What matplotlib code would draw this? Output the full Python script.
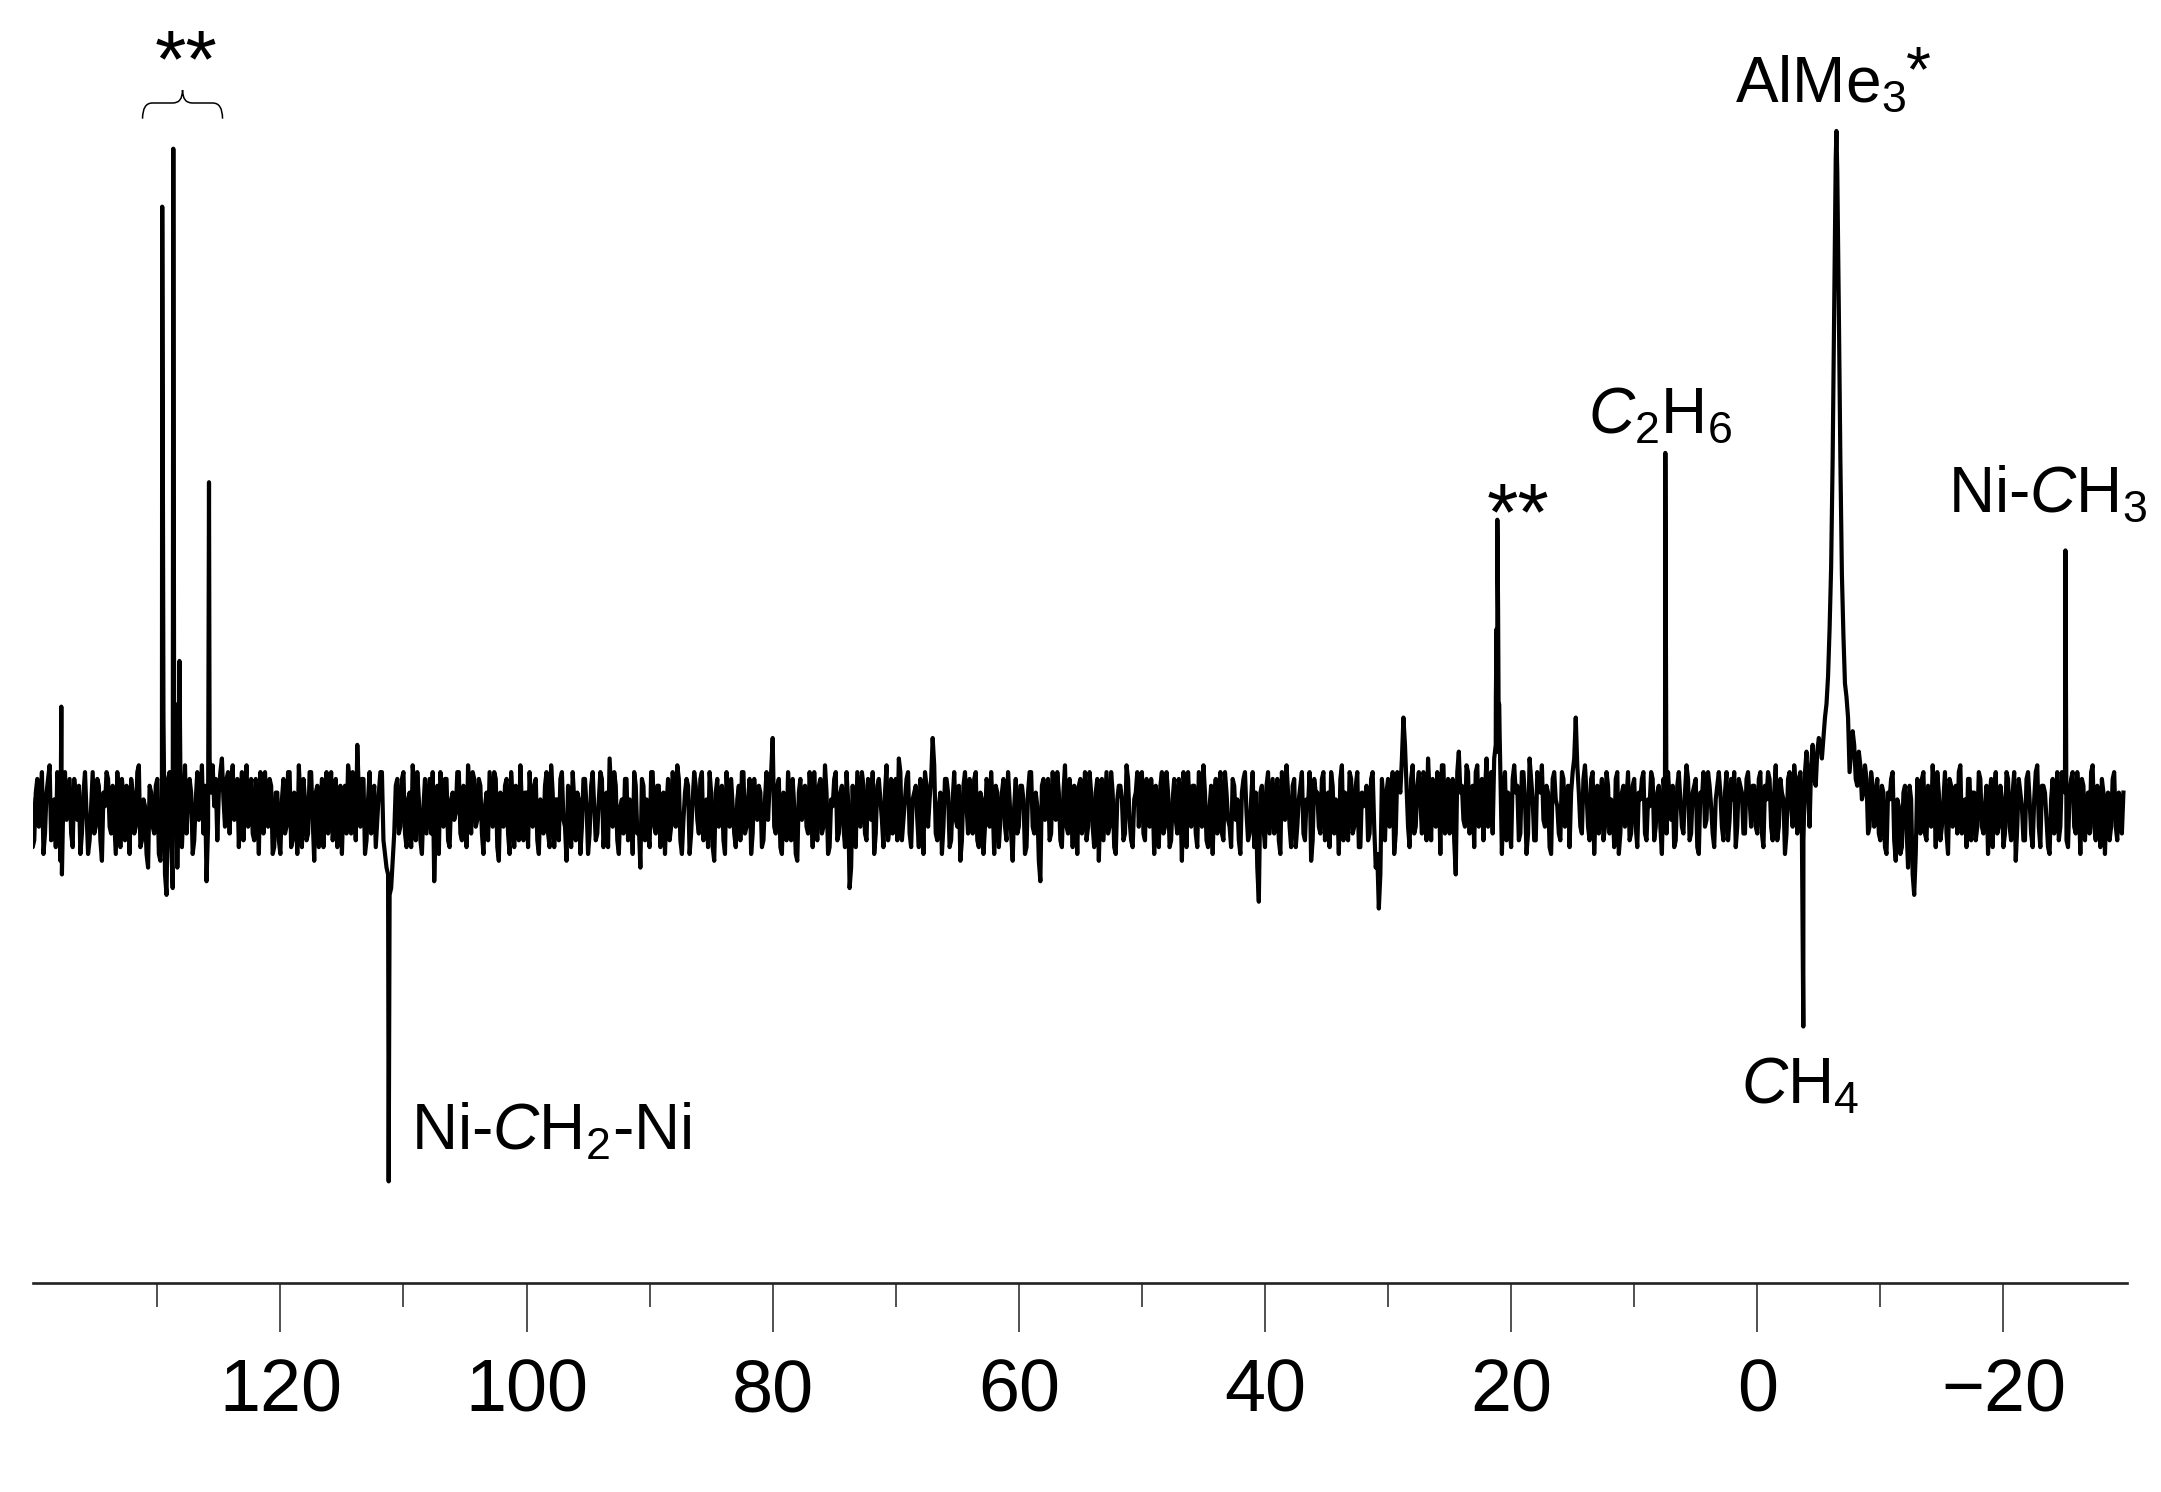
import numpy as np
import matplotlib
matplotlib.use('Agg')
import matplotlib.pyplot as plt
from matplotlib.path import Path
from matplotlib.patches import PathPatch
from matplotlib.ticker import FixedLocator

plt.rcParams['font.family'] = ['Liberation Sans', 'DejaVu Sans']
plt.rcParams['mathtext.fontset'] = 'custom'
plt.rcParams['mathtext.rm'] = 'Liberation Sans'
plt.rcParams['mathtext.it'] = 'Liberation Sans:italic'
plt.rcParams['mathtext.bf'] = 'Liberation Sans:bold'

# spectrum read every 0.25 ppm from 140.25 ppm (intensity: AlMe3 = 100)
ppm_first = 140.25
ppm_step = 0.25
spectrum = [
    # 140.25 .. 130.5
    2, -4, 5, 1, -6, 3, 7, -2, -5, 4, -9, 6, 2, -3, 5, -1, -6, 3, 0, -4,
    6, -2, 4, -7, 1, 5, -3, -1, 6, -5, 2, 4, -6, 3, -2, 7, -4, 1, -8, 3,
    # 130.25 .. 120.5
    -3, 5, -7, 14, -12, 6, -11, 9, 4, -5, 7, 2, 3, -4, 6, 1, -3, -10, 8, 7,
    5, 3, 8, -2, 6, 4, -1, 5, 2, -4, 7, 0, -3, 5, -6, 3, 6, -2, 4, -5,
    # 120.25 .. 110.5
    3, -6, 5, -2, 6, -4, 1, 7, -5, 2, -3, 6, -7, 4, 0, -5, 6, 2, -4, 5,
    -1, -6, 4, 7, -3, 2, 10, -2, 5, -4, 6, 1, -5, 3, 6, -6, -9, -11, -3, 5,
    # 110.25 .. 100.5
    -2, 6, -5, 3, 7, -4, 2, -6, 5, 1, -3, -10, 4, 6, -2, 5, -5, 3, 0, 6,
    -4, 2, 7, -3, 5, -1, 4, -6, 3, 6, -2, 5, -7, 1, 4, -3, 6, -5, 2, 7,
    # 100.25 .. 90.5
    -4, 3, 6, -2, 5, -6, 1, 4, -3, 7, -5, 2, 5, -1, -7, 3, 6, -4, 2, -2,
    5, -6, 4, 1, -3, 6, -5, 3, 8, -2, 4, -6, 2, 5, -4, 1, 6, -3, -8, 4,
    # 90.25 .. 80.5
    2, -5, 6, -3, 4, 1, -6, 5, -2, 3, 7, -4, -1, 5, -6, 2, 4, -3, 6, 0,
    -5, 3, -7, 5, 2, -4, 6, -2, 1, -5, 4, 6, -3, 2, -6, 5, -1, 3, -4, 6,
    # 80.25 .. 70.5
    4, 11, -3, 5, -6, 2, 6, -4, 1, -7, 5, 3, -2, 6, -5, 0, 4, -3, 7, -6,
    2, 5, -4, 3, -2, 6, -11, 4, -5, 2, 6, -3, 5, -1, -6, 4, 2, -5, 7, -2,
    # 70.25 .. 60.5
    -3, 5, 8, -4, 2, 6, -5, 3, -1, 5, -6, 4, 2, 11, -3, 1, -6, 5, 3, -4,
    6, -2, -7, 4, 1, 5, -3, 6, -5, 2, -2, 4, 6, -6, 3, -1, 5, -4, 2, -7,
    # 60.25 .. 50.5
    5, -2, 4, -6, 3, 6, -3, 1, -10, 5, 2, -4, 6, -1, 3, -5, 7, -3, 2, 4,
    -6, 5, 0, -4, 6, -2, 3, -7, 5, 1, -3, 6, -5, 2, 4, -4, 7, -1, -5, 3,
    # 50.25 .. 40.5
    -2, 6, -4, 3, 5, -6, 1, 4, -3, 6, -5, 2, -1, 5, -7, 3, 6, -2, 4, -5,
    2, 7, -4, 1, -6, 5, 3, -3, 6, -1, -5, 4, 2, -6, 5, 0, -3, 6, 3, -13,
    # 40.25 .. 30.5
    4, -5, 6, 1, -3, 5, -6, 3, 7, -2, 4, -5, 2, 6, -4, 1, -7, 5, 3, -3,
    6, -1, -5, 4, 2, -6, 7, 3, -4, 5, -2, 6, -5, 1, 4, -3, 6, -8, -14, 5,
    # 30.25 .. 20.5
    -4, 5, 2, -6, 6, 3, 14, 4, -5, 7, -2, 6, -3, 5, 8, -4, 2, 6, -6, 7,
    1, -3, 5, -9, 9, 4, -2, 6, 3, -5, 7, 2, -4, 8, 5, -3, 10, 9, -6, 6,
    # 20.25 .. 10.5
    3, -5, 7, 4, -3, 6, -6, 8, 2, -4, 5, 7, -2, 3, -6, 6, 1, -4, 5, 2,
    -5, 6, 14, 3, -3, 7, -2, 5, -6, 4, 2, -4, 6, -3, 1, 5, -6, 3, -2, 6,
    # 10.25 .. 0.5
    -3, 5, -5, 2, 6, -4, 1, 5, -2, 4, -6, 3, 6, -1, -5, 4, 2, -3, 7, -4,
    3, 5, -6, 2, -2, 6, 1, -5, 4, 3, -4, 6, -1, 2, -5, 5, 3, -3, 6, -2,
    # 0.25 .. -9.5 (AlMe3 base)
    4, -3, 6, -5, 2, 5, -4, 7, -2, 3, -6, 5, 1, 7, -3, 6, -4, 9, -2, 10,
    4, 11, 8, 14, 20, 36, 74, 94, 52, 26, 17, 6, 12, 5, 9, 2, 7, -3, 6, -2,
    # -9.75 .. -19.5
    5, -4, 3, -6, 2, 6, -7, 1, -5, 4, -8, 2, -12, 5, -3, 6, -4, 1, 7, -5,
    3, -2, 6, -6, 4, 2, -3, 7, -1, -5, 5, 3, -4, 6, -2, 1, -6, 5, 3, -3,
    # -19.75 .. -29.75
    4, -5, 6, -2, 3, -7, 5, 1, -4, 6, -3, 2, 7, -5, 4, -1, -6, 5, 2, -4,
    6, 3, -5, 5, -2, 6, -6, 4, 1, -3, 7, -4, 2, 5, -6, 3, -2, 6, -4, 2, 3,
]

# same spectrum read at the midpoints, from 140.125 ppm
spectrum_mid = [
    # 140.125 .. 130.375
    -5, 3, -2, 6, -3, 5, -4, 2, 6, -7, 3, -1, 5, -5, 2, 4, -3, 6, -6, 1,
    -3, 5, -4, 3, 6, -2, 4, -6, 2, 5, -4, 0, 5, -3, 6, -5, 2, -6, 4, -2,
    # 130.125 .. 120.375
    4, -6, 2, -9, 5, -4, 3, -8, 6, 1, -3, 5, -6, 2, -1, 7, 4, -2, 3, 1,
    -4, 6, 2, 5, -3, 7, 2, -5, 6, 3, -2, 5, -4, 2, 6, -3, 1, 5, -6, 3,
    # 120.125 .. 110.375
    -4, 2, -3, 6, -5, 3, -6, 2, 5, -4, 6, -1, 3, -5, 5, 2, -3, 6, -1, -5,
    4, 2, -3, 5, 6, -4, 3, 5, -6, 2, -3, 4, -1, 6, -4, -8, -12, -7, 4, -3,
    # 110.125 .. 100.375
    5, -3, 2, -5, 4, 6, -4, 1, -3, 5, 6, -2, -6, 3, 5, -4, 2, -1, 6, -3,
    4, -5, 3, 6, -2, 5, -3, 1, -4, 2, 6, -5, 3, -2, 5, -6, 2, 4, -4, 1,
    # 100.125 .. 90.375
    3, -5, 1, 4, -4, 2, -3, 6, -5, 3, 2, -4, 6, -2, 4, -5, 2, 3, -6, 5,
    1, -3, 6, -4, 2, 5, -2, -5, 3, 6, -4, 1, -3, 5, 2, -6, 4, -2, 5, -4,
    # 90.125 .. 80.375
    -3, 6, -2, 4, -5, 3, 1, -4, 6, -2, 5, -6, 3, 4, -3, 6, -1, 5, -4, 2,
    6, -5, 3, -2, 4, -6, 1, 5, -3, 2, -4, 6, -2, 5, -3, 1, 4, -5, 2, -1,
    # 80.125 .. 70.375
    6, -2, 4, -5, 3, -4, 2, 5, -6, 3, -1, 4, -3, 2, 6, -4, 5, -2, 3, -5,
    1, 6, -3, 4, -5, 2, -8, -3, 6, -2, 4, -4, 2, 6, -3, 5, -1, 3, -4, 5,
    # 70.125 .. 60.375
    2, -4, 6, -1, 5, -3, 2, 4, -5, 3, 6, -2, 5, 7, -4, 3, -2, 5, -5, 2,
    -1, 4, -4, 6, -3, 2, 5, -4, 3, -6, 5, -2, 1, 4, -5, 3, -2, 6, -3, 1,
    # 60.125 .. 50.375
    -3, 4, 2, -5, 6, -2, 3, -7, 4, -1, 5, -3, 2, 6, -4, 3, -2, 5, -5, 1,
    4, -3, 6, -2, 3, -5, 5, 1, -4, 6, -2, 3, -6, 4, 2, -3, 5, -4, 2, 6,
    # 50.125 .. 40.375
    4, -3, 5, -2, 2, 4, -5, 6, -2, 3, -4, 5, -3, 2, 6, -5, 1, 4, -3, 6,
    -2, 3, -5, 4, 2, -3, 6, -4, 3, -2, 5, -1, -4, 3, 6, -4, 2, -5, -8, 3,
    # 40.125 .. 30.375
    -2, 4, -3, 5, 2, -4, 6, -1, 3, -5, 5, -2, 4, -3, 2, 6, -4, 3, -2, 5,
    -4, 3, 6, -3, 1, 5, -4, 2, 6, -3, 4, -5, 3, 2, -4, 5, -2, -6, -9, 2,
    # 30.125 .. 20.375
    3, -2, 6, -3, 4, 8, 10, -2, 5, -3, 4, 2, 6, -4, 3, 5, -2, 4, 7, -3,
    5, 2, -4, 6, 3, -1, 7, -3, 4, 6, -2, 5, 3, -2, 6, 8, 9, 6, 3, -4,
    # 20.125 .. 10.375
    -2, 5, 3, -4, 6, 2, -3, 5, -4, 6, 3, -1, 4, -5, 5, 2, -3, 6, -2, 4,
    3, 8, 7, -2, 5, 3, -4, 6, 1, -3, 5, -2, 4, 2, -5, 6, -3, 4, 2, -4,
    # 10.125 .. 0.375
    4, -2, 3, 5, -3, 2, 6, -4, 3, -2, 5, -3, 2, 4, -4, 6, -2, 3, 5, -3,
    4, -5, 3, 6, -1, 4, -3, 2, 6, -2, 3, -4, 5, 6, -2, 4, -3, 5, 2, 4,
    # 0.125 .. -9.625 (AlMe3 base)
    -2, 5, -3, 4, 6, -2, 3, -4, 5, 2, -3, 6, -2, 4, 5, -3, 6, 3, 7, 5,
    9, 10, 11, 16, 27, 52, 96, 74, 35, 19, 14, 9, 10, 4, 7, 3, 5, -2, 4, 2,
    # -9.875 .. -19.625
    -3, 4, -5, 3, 5, -4, 2, -6, 3, -2, 4, -9, -6, 2, 5, -3, 4, -2, 3, 6,
    -4, 2, -3, 5, -2, 4, 6, -3, 2, 5, -4, 3, -2, 5, -3, 4, 2, -5, 6, -2,
    # -19.875 .. -29.625
    2, -3, 5, -4, 6, -2, 3, -4, 5, 2, -5, 6, -2, 4, 3, -5, 2, -3, 6, -2,
    4, -4, 3, 6, -3, 2, 5, -4, 3, 6, -2, 4, -5, 3, 2, -4, 5, -2, 3, -3,
]

# sharp lines (ppm, intensity)
line_ppm = [137.8, 129.6, 128.7, 128.55, 128.2, 125.8, 111.2,
            21.24, 21.18, 21.12, 21.06, 20.98, 7.47, -3.74, -6.43, -25.04]
line_int = [15.6, 88.9, 97.4, 16.0, 22.3, 48.5, -54.0,
            17.0, 27.0, 43.0, 30.0, 16.0, 52.8, -31.3, 100.0, 38.5]

solvent_ppm = [129.6, 128.7, 128.2, 125.8]

major_ticks = [120, 100, 80, 60, 40, 20, 0, -20]
minor_ticks = [130, 110, 90, 70, 50, 30, 10, -10]

grid_ppm = ppm_first - ppm_step * np.arange(len(spectrum))
mid_ppm = ppm_first - ppm_step / 2 - ppm_step * np.arange(len(spectrum_mid))
x = np.concatenate([grid_ppm, mid_ppm, line_ppm])
y = np.concatenate([spectrum, spectrum_mid, line_int]).astype(float)
order = np.argsort(-x)
x, y = x[order], y[order]

W, H = 2161, 1492
fig = plt.figure(figsize=(W / 100, H / 100), dpi=100)
ax = fig.add_axes([33 / W, 209 / H, 2093.5 / W, 1283 / H])
ax.plot(x, y, color='black', lw=3.0)

ax.set_xlim(140.1, -30.0)
ax.set_ylim(-68.9, 119.2)
for s in ['top', 'left', 'right']:
    ax.spines[s].set_visible(False)
ax.spines['bottom'].set_linewidth(1.9)
ax.spines['bottom'].set_color('#222222')
ax.set_yticks([])
ax.xaxis.set_major_locator(FixedLocator(major_ticks))
ax.xaxis.set_minor_locator(FixedLocator(minor_ticks))
ax.tick_params(axis='x', which='major', length=35, width=1.1, pad=19,
               labelsize=53, direction='out', color='#222222')
ax.tick_params(axis='x', which='minor', length=17, width=1.1,
               direction='out', color='#222222')

fs = 46
ax.text(1.84, 104.3, 'AlMe$_3$', fontsize=fs, ha='left', va='baseline')
ax.text(-12.11, 105.9, '*', fontsize=fs, ha='left', va='baseline')
ax.text(7.90, 55.7, '$\\mathit{C}_2$H$_6$', fontsize=fs, ha='center', va='baseline')
ax.text(-23.62, 44.2, 'Ni-$\\mathit{C}$H$_3$', fontsize=fs, ha='center', va='baseline')
ax.text(-3.5, -42.6, '$\\mathit{C}$H$_4$', fontsize=fs, ha='center', va='baseline')
ax.text(109.4, -49.3, 'Ni-$\\mathit{C}$H$_2$-Ni', fontsize=fs, ha='left', va='baseline')
ax.text(19.45, 40.1, '**', fontsize=58, ha='center', va='baseline')
ax.text(127.66, 106.6, '**', fontsize=58, ha='center', va='baseline')

# curly brace over the solvent group
xl, xr = max(solvent_ppm) + 1.6, min(solvent_ppm) - 1.1
xm = (xl + xr) / 2
y_end, y_line, y_tip = 101.8, 104.1, 106.0
r = 0.8
verts = [(xl, y_end), (xl, y_line), (xl - r, y_line),
         (xm + r, y_line), (xm, y_line), (xm, y_tip),
         (xm, y_line), (xm - r, y_line),
         (xr + r, y_line), (xr, y_line), (xr, y_end)]
codes = [Path.MOVETO, Path.CURVE3, Path.CURVE3,
         Path.LINETO, Path.CURVE3, Path.CURVE3,
         Path.CURVE3, Path.CURVE3,
         Path.LINETO, Path.CURVE3, Path.CURVE3]
ax.add_patch(PathPatch(Path(verts, codes), fill=False, lw=1.1, color='black'))

fig.savefig('out.png', dpi=100)
